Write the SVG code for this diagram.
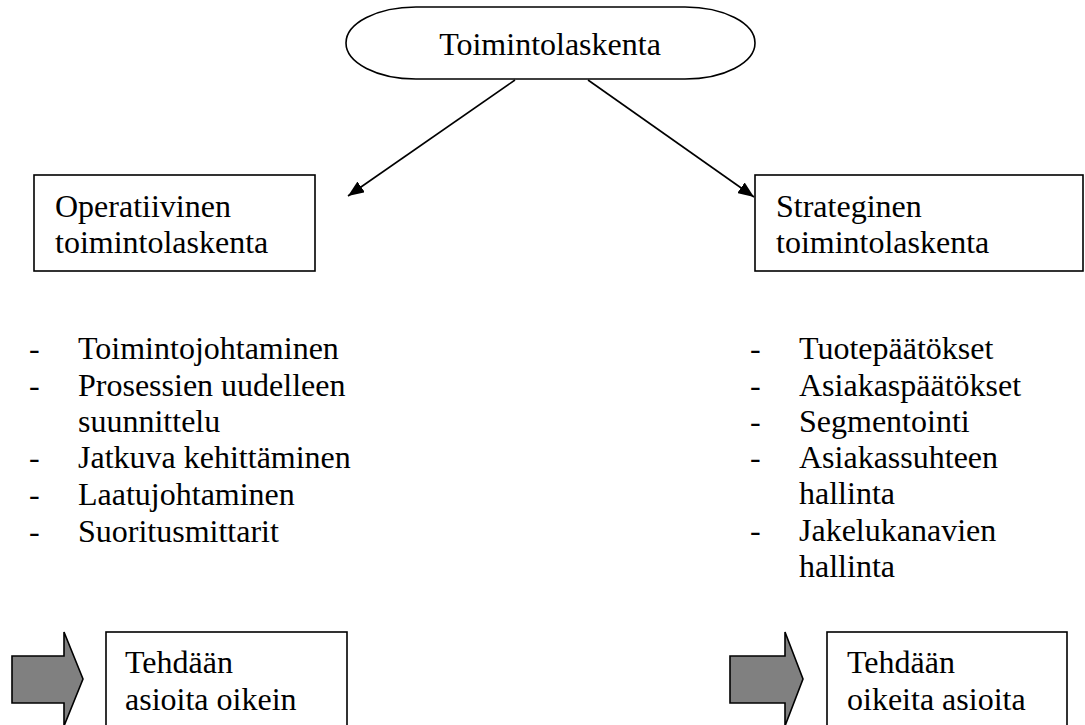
<svg xmlns="http://www.w3.org/2000/svg" width="1085" height="725" viewBox="0 0 1085 725">
<defs>
<style>
text{font-family:"Liberation Serif",serif;font-size:32px;fill:#000}
.box{fill:#fff;stroke:#000;stroke-width:1.6}
.con{stroke:#000;stroke-width:1.6;fill:none}
.garrow{fill:#808080;stroke:#000;stroke-width:1.6;stroke-linejoin:miter}
</style>
<marker id="ah" viewBox="0 0 16 13" refX="16" refY="6.5" markerWidth="16" markerHeight="13" markerUnits="userSpaceOnUse" orient="auto">
<path d="M0,0 L16,6.5 L0,13 z" fill="#000"/>
</marker>
</defs>
<rect width="1085" height="725" fill="#fff"/>
<g id="connectors">
<line class="con" x1="515" y1="80" x2="348" y2="196" marker-end="url(#ah)"/>
<line class="con" x1="588" y1="80" x2="754" y2="197" marker-end="url(#ah)"/>
</g>
<g id="root">
<rect class="box" x="346" y="7" width="409" height="72" rx="70" ry="36"/>
<text x="550" y="55" text-anchor="middle">Toimintolaskenta</text>
</g>
<g id="operatiivinen">
<rect class="box" x="34" y="175" width="281" height="96"/>
<text x="55" y="217">Operatiivinen</text>
<text x="55" y="253">toimintolaskenta</text>
</g>
<g id="strateginen">
<rect class="box" x="755" y="175" width="328" height="96"/>
<text x="776" y="217">Strateginen</text>
<text x="776" y="253">toimintolaskenta</text>
</g>
<g id="list-operatiivinen">
<text x="29" y="359">-</text><text x="78" y="359">Toimintojohtaminen</text>
<text x="29" y="396">-</text><text x="78" y="396">Prosessien uudelleen</text>
<text x="78" y="432">suunnittelu</text>
<text x="29" y="468">-</text><text x="78" y="468">Jatkuva kehittäminen</text>
<text x="29" y="505">-</text><text x="78" y="505">Laatujohtaminen</text>
<text x="29" y="542">-</text><text x="78" y="542">Suoritusmittarit</text>
</g>
<g id="list-strateginen">
<text x="750" y="359">-</text><text x="799" y="359">Tuotepäätökset</text>
<text x="750" y="396">-</text><text x="799" y="396">Asiakaspäätökset</text>
<text x="750" y="432">-</text><text x="799" y="432">Segmentointi</text>
<text x="750" y="468">-</text><text x="799" y="468">Asiakassuhteen</text>
<text x="799" y="504">hallinta</text>
<text x="750" y="541">-</text><text x="799" y="541">Jakelukanavien</text>
<text x="799" y="577">hallinta</text>
</g>
<g id="arrow-left">
<polygon class="garrow" points="12,656 64,656 64,632 83,679 64,726 64,703 12,703"/>
</g>
<g id="result-left">
<rect class="box" x="106" y="632" width="241" height="100"/>
<text x="125" y="673">Tehdään</text>
<text x="125" y="710">asioita oikein</text>
</g>
<g id="arrow-right">
<polygon class="garrow" points="730,656 785,656 785,632 803,679 785,726 785,703 730,703"/>
</g>
<g id="result-right">
<rect class="box" x="827" y="632" width="240" height="100"/>
<text x="847" y="673">Tehdään</text>
<text x="847" y="710">oikeita asioita</text>
</g>
</svg>
